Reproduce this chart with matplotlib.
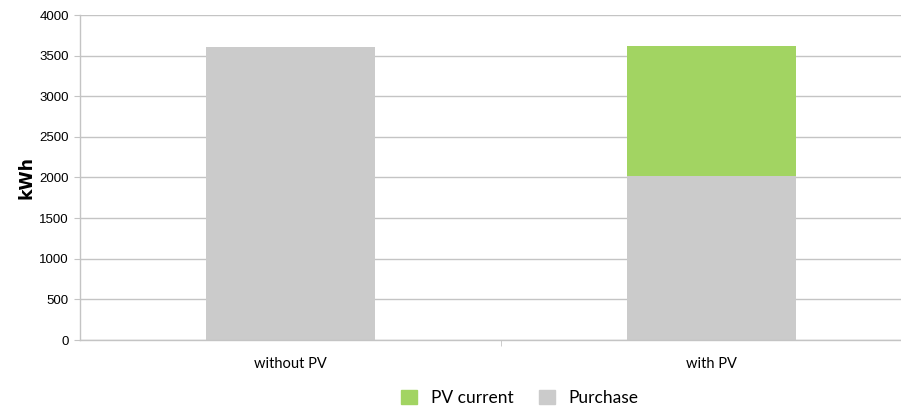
import matplotlib

matplotlib.use("Agg")
import matplotlib.pyplot as plt  # noqa: E402
from matplotlib.patches import Patch  # noqa: E402

categories = ["without PV", "with PV"]
purchase = [3610, 2020]
pv_current = [0, 1600]

GREEN = "#a2d462"
GREY = "#cbcbcb"

fig = plt.figure(figsize=(9.01, 4.11), dpi=100)
ax = fig.add_axes([80 / 901, 71 / 411, 842 / 901, 325 / 411])

x = list(range(len(categories)))
ax.bar(x, purchase, width=0.4, color=GREY, zorder=2)
ax.bar(x, pv_current, width=0.4, bottom=purchase, color=GREEN, zorder=2)

ax.set_xlim(-0.5, 1.5)
ax.set_ylim(0, 4000)
ax.set_yticks(range(0, 4001, 500))
ax.yaxis.grid(True, color="#c4c4c4", linewidth=1)
ax.set_axisbelow(True)

ax.set_xticks(x)
ax.set_xticklabels(categories, fontfamily="Lato", fontsize=10.5)
ax.tick_params(axis="x", length=0, pad=12)
ax.set_xticks([0.5], minor=True)
ax.tick_params(axis="x", which="minor", length=4, color="#c4c4c4")
ax.tick_params(axis="y", length=4, color="#c4c4c4", labelsize=9.5, pad=4)
for lab in ax.get_yticklabels():
    lab.set_fontfamily("Liberation Sans")

for side in ("top", "right"):
    ax.spines[side].set_visible(False)
for side in ("left", "bottom"):
    ax.spines[side].set_color("#c4c4c4")
    ax.spines[side].set_linewidth(1)

ax.set_ylabel("kWh", fontfamily="DejaVu Sans", fontweight="bold",
              fontsize=12.5, labelpad=3)

handles = [Patch(color=GREEN, label="PV current"),
           Patch(color=GREY, label="Purchase")]
fig.legend(handles=handles, loc="center", bbox_to_anchor=(520 / 901, 1 - 398 / 411),
           ncol=2, frameon=False, prop={"family": "Lato", "size": 12.5},
           handlelength=0.9, handleheight=0.9, columnspacing=1.5, handletextpad=0.8)

fig.savefig("out.png", dpi=100)
